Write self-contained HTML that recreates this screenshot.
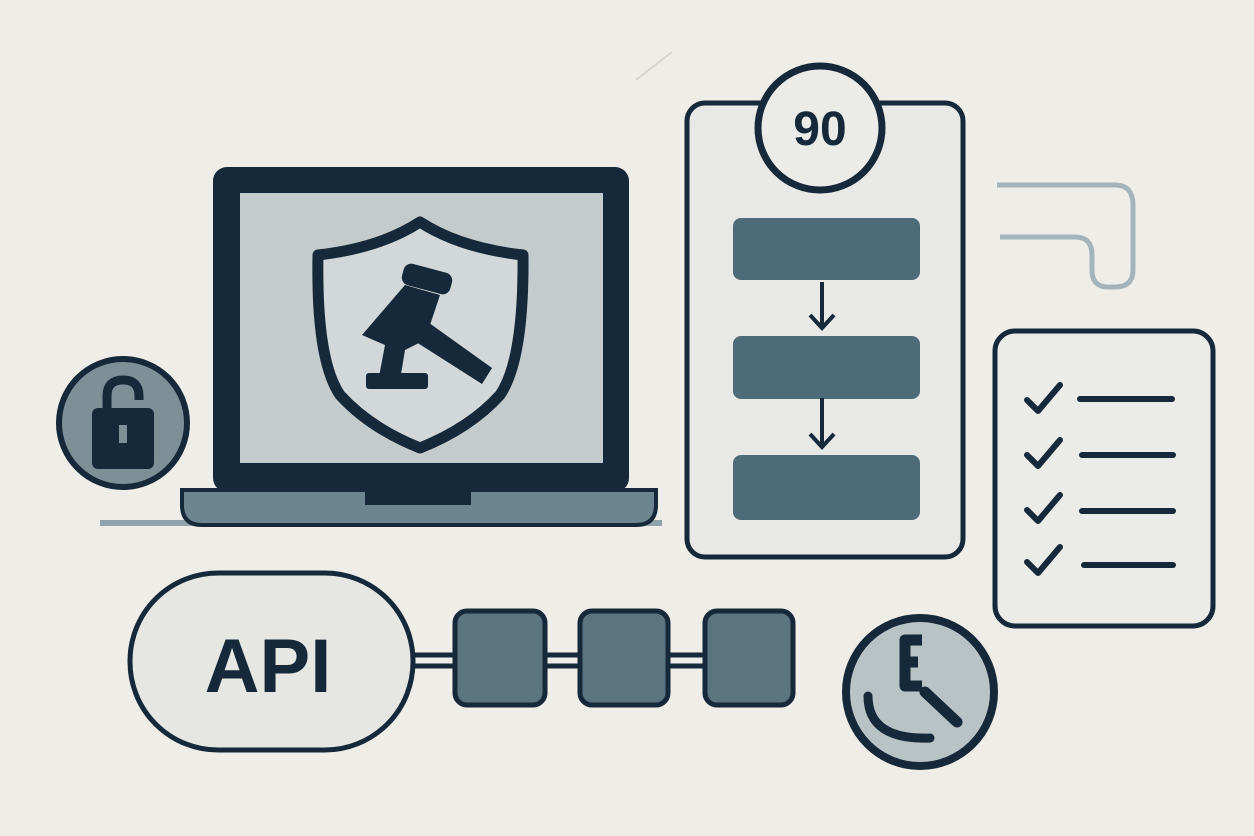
<!DOCTYPE html>
<html><head><meta charset="utf-8"><style>
html,body{margin:0;padding:0;background:#efede7;}
svg{display:block;}
</style></head><body>
<svg width="1254" height="836" viewBox="0 0 1254 836" xmlns="http://www.w3.org/2000/svg">
<rect width="1254" height="836" fill="#efede7"/>
<line x1="636" y1="80" x2="672" y2="52" stroke="#d7d6d0" stroke-width="2"/>
<!-- laptop -->
<line x1="100" y1="523" x2="662" y2="523" stroke="#8fa3ab" stroke-width="6"/>
<rect x="213" y="167" width="416" height="325" rx="14" fill="#15293a"/>
<rect x="240" y="193" width="363" height="270" fill="#c3cbcc"/>
<path d="M182 490 H656 V505 Q656 525 636 525 H202 Q182 525 182 505 Z" fill="#6d8590" stroke="#15293a" stroke-width="4"/>
<rect x="365" y="490" width="106" height="15" fill="#15293a"/>
<!-- shield -->
<path d="M420 222 Q380 248 318 255 Q316 360 340 395 Q370 428 420 448 Q470 428 500 395 Q524 360 523 255 Q460 248 420 222 Z" fill="#d2d8d9" stroke="#15293a" stroke-width="11" stroke-linejoin="round"/>
<g fill="#15293a">
<rect x="402" y="268" width="50" height="22" rx="8" transform="rotate(15 427 279)"/>
<path d="M405 285 L440 295 L425 340 L405 350 L400 380 L378 382 L385 345 L362 335 Z"/>
<path d="M425 320 L492 368 L482 384 L413 340 Z"/>
<rect x="366" y="373" width="62" height="16" rx="3"/>
</g>
<!-- lock circle -->
<circle cx="123" cy="423" r="64" fill="#7d9098" stroke="#15293a" stroke-width="6"/>
<path d="M107 410 V396 Q107 380 123 380 Q139 380 139 396 V400" fill="none" stroke="#15293a" stroke-width="9"/>
<rect x="92" y="408" width="62" height="61" rx="6" fill="#15293a"/>
<rect x="119" y="425" width="8" height="18" fill="#7d9098"/>
<!-- flowchart card -->
<rect x="687" y="103" width="276" height="454" rx="18" fill="#e8e9e6" stroke="#15293a" stroke-width="5"/>
<circle cx="820" cy="128" r="62" fill="#ebebe8" stroke="#15293a" stroke-width="7"/>
<text x="820" y="145" text-anchor="middle" font-family="Liberation Sans, sans-serif" font-weight="bold" font-size="48" fill="#15293a">90</text>
<rect x="733" y="218" width="187" height="62" rx="8" fill="#4d6b78"/>
<rect x="733" y="336" width="187" height="63" rx="8" fill="#4d6b78"/>
<rect x="733" y="455" width="187" height="65" rx="8" fill="#4d6b78"/>
<g stroke="#15293a" stroke-width="4" fill="none">
<line x1="822" y1="282" x2="822" y2="327"/><path d="M810 315 L822 328 L834 315"/>
<line x1="822" y1="398" x2="822" y2="446"/><path d="M810 434 L822 447 L834 434"/>
</g>
<!-- faded top right -->
<path d="M997 185 H1115 Q1133 185 1133 205 V270 Q1133 287 1115 287 H1108 Q1092 287 1092 270 V255 Q1092 237 1075 237 H1000" fill="none" stroke="#a3b4ba" stroke-width="5"/>
<!-- checklist -->
<rect x="995" y="331" width="218" height="295" rx="20" fill="#ebebe7" stroke="#15293a" stroke-width="5"/>
<g stroke="#15293a" stroke-width="6" fill="none" stroke-linecap="round" stroke-linejoin="round">
<path d="M1027 400 L1038 411 L1060 385"/><line x1="1080" y1="399" x2="1172" y2="399"/>
<path d="M1027 455 L1038 466 L1060 440"/><line x1="1082" y1="455" x2="1173" y2="455"/>
<path d="M1027 510 L1038 521 L1060 495"/><line x1="1082" y1="511" x2="1173" y2="511"/>
<path d="M1027 562 L1038 573 L1060 547"/><line x1="1084" y1="565" x2="1173" y2="565"/>
</g>
<!-- API pill -->
<rect x="130" y="573" width="283" height="177" rx="88" fill="#e6e6e2" stroke="#15293a" stroke-width="5"/>
<text x="268" y="692" text-anchor="middle" font-family="Liberation Sans, sans-serif" font-weight="bold" font-size="76" fill="#15293a">API</text>
<!-- chain -->
<g stroke="#15293a" stroke-width="5">
<line x1="413" y1="655" x2="455" y2="655"/><line x1="413" y1="666" x2="455" y2="666"/>
<line x1="545" y1="655" x2="580" y2="655"/><line x1="545" y1="666" x2="580" y2="666"/>
<line x1="668" y1="655" x2="705" y2="655"/><line x1="668" y1="666" x2="705" y2="666"/>
</g>
<g fill="#5a7580" stroke="#15293a" stroke-width="5">
<rect x="455" y="611" width="90" height="94" rx="12"/>
<rect x="580" y="611" width="88" height="94" rx="12"/>
<rect x="705" y="611" width="88" height="94" rx="12"/>
</g>
<!-- clock -->
<circle cx="920" cy="692" r="74" fill="#b8c3c6" stroke="#15293a" stroke-width="8"/>
<path d="M922 640 H905 V686 H922 M905 662 H918" fill="none" stroke="#15293a" stroke-width="11" stroke-linejoin="round"/>
<path d="M868 696 Q868 740 930 738" fill="none" stroke="#15293a" stroke-width="9" stroke-linecap="round"/>
<line x1="925" y1="692" x2="957" y2="722" stroke="#15293a" stroke-width="11" stroke-linecap="round"/>
</svg>
</body></html>
